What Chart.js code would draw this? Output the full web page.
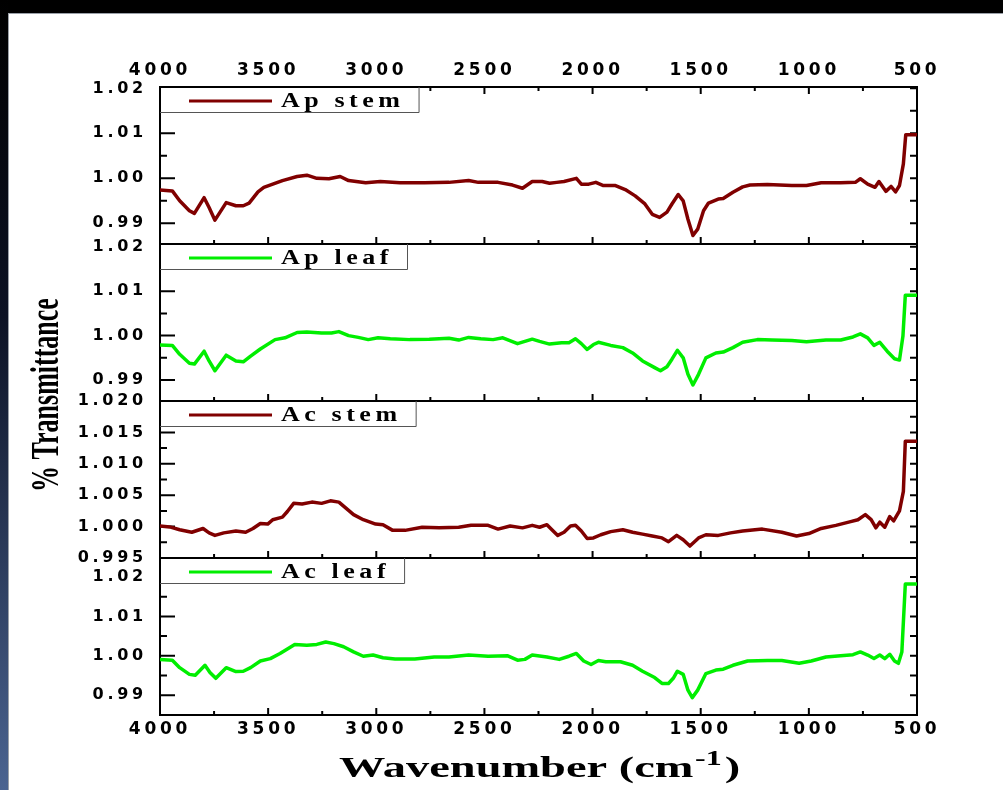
<!DOCTYPE html>
<html>
<head>
<meta charset="utf-8">
<title>FTIR spectra</title>
<script src="https://cdn.jsdelivr.net/npm/chart.js@4.4.1/dist/chart.umd.min.js"></script>
<style>
  html, body { margin: 0; padding: 0; background: #000; }
  #page { position: relative; width: 1003px; height: 790px; overflow: hidden; background: #000; }
  #strip { position: absolute; left: 0; top: 0; width: 8px; height: 790px; background: linear-gradient(to bottom, #000 0%, #0c1224 40%, #4b6491 100%); }
  #sheet { position: absolute; left: 8px; top: 13px; right: 0; bottom: 0; background: #fff; border-top: 1px solid #9aa0a8; border-left: 1px solid #9aa0a8; }
  #myChart { position: absolute; left: 0; top: 0; }
</style>
</head>
<body>
<div id="page">
  <div id="strip"></div>
  <div id="sheet"></div>
  <canvas id="myChart" width="1003" height="790"></canvas>
</div>
<script>
// wavenumber (cm-1) and transmittance
const apStemWn = [4000, 3943, 3909, 3864, 3841, 3796, 3773, 3746, 3694, 3649, 3615, 3588, 3547, 3520, 3434, 3366, 3321, 3275, 3219, 3167, 3128, 3049, 2981, 2890, 2777, 2664, 2573, 2528, 2437, 2370, 2324, 2279, 2233, 2199, 2166, 2132, 2075, 2052, 2018, 1985, 1950, 1894, 1849, 1803, 1758, 1724, 1690, 1656, 1633, 1604, 1581, 1559, 1536, 1514, 1487, 1464, 1419, 1396, 1351, 1306, 1272, 1192, 1079, 1011, 943, 853, 785, 762, 728, 694, 676, 644, 620, 599, 581, 563, 552, 500];
const apStemT = [0.9974, 0.9972, 0.995, 0.9928, 0.9922, 0.9957, 0.9935, 0.9907, 0.9946, 0.9939, 0.9939, 0.9945, 0.997, 0.998, 0.9995, 1.0004, 1.0007, 1.0, 0.9999, 1.0004, 0.9995, 0.999, 0.9993, 0.999, 0.999, 0.9991, 0.9995, 0.9991, 0.9991, 0.9985, 0.9978, 0.9993, 0.9993, 0.9989, 0.9991, 0.9993, 1.0, 0.9987, 0.9987, 0.9991, 0.9984, 0.9984, 0.9975, 0.9961, 0.9943, 0.992, 0.9913, 0.9925, 0.9943, 0.9964, 0.995, 0.9909, 0.9873, 0.9887, 0.9928, 0.9945, 0.9954, 0.9955, 0.9969, 0.9981, 0.9985, 0.9986, 0.9984, 0.9984, 0.999, 0.999, 0.9991, 0.9999, 0.9987, 0.998, 0.9993, 0.9971, 0.9982, 0.997, 0.9984, 1.0032, 1.0097, 1.0097];

const apLeafWn = [4000, 3943, 3909, 3864, 3841, 3796, 3773, 3746, 3694, 3649, 3615, 3581, 3536, 3468, 3422, 3366, 3321, 3253, 3207, 3173, 3128, 3083, 3037, 2992, 2935, 2845, 2755, 2664, 2619, 2573, 2517, 2460, 2415, 2347, 2279, 2245, 2199, 2143, 2109, 2079, 2052, 2025, 1996, 1973, 1916, 1860, 1815, 1769, 1713, 1686, 1656, 1633, 1608, 1581, 1559, 1536, 1510, 1476, 1430, 1396, 1351, 1306, 1238, 1170, 1079, 1011, 921, 853, 796, 762, 728, 699, 672, 638, 604, 581, 565, 554, 500];
const apLeafT = [0.9979, 0.9978, 0.9958, 0.9938, 0.9936, 0.9965, 0.9943, 0.9921, 0.9956, 0.9943, 0.9941, 0.9954, 0.997, 0.9991, 0.9995, 1.0007, 1.0008, 1.0006, 1.0006, 1.0009, 1.0, 0.9996, 0.9991, 0.9995, 0.9993, 0.9991, 0.9992, 0.9994, 0.999, 0.9996, 0.9993, 0.9991, 0.9995, 0.9982, 0.9992, 0.9987, 0.9981, 0.9984, 0.9984, 0.9993, 0.9982, 0.9969, 0.998, 0.9985, 0.9978, 0.9973, 0.9961, 0.9943, 0.9928, 0.9921, 0.993, 0.9947, 0.9967, 0.995, 0.9913, 0.9889, 0.9913, 0.995, 0.9961, 0.9963, 0.9973, 0.9985, 0.9991, 0.999, 0.9989, 0.9986, 0.999, 0.999, 0.9997, 1.0004, 0.9995, 0.9978, 0.9985, 0.9965, 0.9948, 0.9945, 0.9999, 1.0091, 1.0091];

const acStemWn = [4000, 3955, 3909, 3853, 3801, 3773, 3746, 3705, 3649, 3604, 3570, 3536, 3502, 3479, 3434, 3411, 3382, 3343, 3298, 3253, 3212, 3173, 3139, 3105, 3060, 3003, 2969, 2924, 2867, 2788, 2709, 2619, 2562, 2483, 2437, 2381, 2324, 2279, 2245, 2211, 2188, 2161, 2132, 2102, 2079, 2052, 2025, 1996, 1962, 1916, 1860, 1815, 1769, 1724, 1679, 1649, 1611, 1581, 1550, 1510, 1476, 1419, 1362, 1306, 1215, 1125, 1057, 1000, 943, 875, 807, 773, 739, 712, 690, 672, 649, 626, 608, 581, 563, 554, 500];
const acStemT = [1.0001, 0.99995, 0.9995, 0.9991, 0.9997, 0.999, 0.9986, 0.999, 0.9993, 0.9991, 0.9997, 1.0005, 1.0004, 1.0011, 1.0015, 1.0024, 1.0037, 1.0036, 1.0039, 1.0037, 1.0041, 1.0039, 1.0029, 1.0019, 1.0011, 1.0004, 1.0003, 0.9994, 0.9994, 0.9999, 0.9998, 0.9999, 1.0002, 1.0002, 0.9996, 1.0001, 0.9998, 1.0002, 0.9999, 1.0003, 0.9995, 0.9986, 0.9991, 1.0001, 1.0002, 0.9993, 0.9981, 0.9982, 0.9987, 0.9992, 0.9995, 0.9991, 0.9988, 0.9985, 0.9982, 0.9976, 0.9986, 0.9979, 0.9969, 0.9982, 0.9987, 0.9986, 0.999, 0.9993, 0.9996, 0.9991, 0.9985, 0.9989, 0.9997, 1.0002, 1.0008, 1.0011, 1.0019, 1.0011, 0.9998, 1.0007, 0.9999, 1.0016, 1.0009, 1.0025, 1.0056, 1.0136, 1.0136];

const acLeafWn = [4000, 3943, 3909, 3864, 3837, 3792, 3769, 3742, 3694, 3649, 3615, 3581, 3536, 3490, 3445, 3377, 3321, 3275, 3234, 3196, 3151, 3105, 3060, 3015, 2969, 2913, 2822, 2732, 2664, 2573, 2483, 2392, 2347, 2313, 2279, 2211, 2154, 2109, 2075, 2041, 2007, 1973, 1939, 1871, 1815, 1769, 1713, 1679, 1649, 1627, 1608, 1581, 1559, 1539, 1514, 1476, 1430, 1396, 1351, 1283, 1192, 1125, 1045, 989, 921, 853, 796, 762, 728, 699, 672, 649, 626, 604, 586, 570, 554, 500];
const acLeafT = [0.9991, 0.9989, 0.997, 0.9953, 0.9951, 0.9976, 0.9958, 0.9943, 0.997, 0.996, 0.9961, 0.997, 0.9987, 0.9993, 1.0006, 1.0029, 1.0027, 1.0029, 1.0035, 1.0031, 1.0023, 1.001, 0.9999, 1.0002, 0.9995, 0.9992, 0.9992, 0.9997, 0.9997, 1.0002, 0.9999, 1.0, 0.9989, 0.9991, 1.0002, 0.9997, 0.9991, 0.9999, 1.0006, 0.9987, 0.9978, 0.9988, 0.9985, 0.9985, 0.9976, 0.9961, 0.9945, 0.993, 0.993, 0.9943, 0.9961, 0.9953, 0.9913, 0.9894, 0.9913, 0.9955, 0.9964, 0.9966, 0.9976, 0.9987, 0.9988, 0.9988, 0.9981, 0.9987, 0.9997, 1.0, 1.0003, 1.001, 1.0002, 0.9993, 1.0002, 0.9993, 1.0004, 0.9987, 0.9981, 1.001, 1.0182, 1.0182];

const seriesLabels = ["Ap stem", "Ap leaf", "Ac stem", "Ac leaf"];
const xTickLabels = ["4000", "3500", "3000", "2500", "2000", "1500", "1000", "500"];

const stemColor = "#800000";
const leafColor = "#00ee00";

// one panel per sample, top to bottom
const panels = [
  { id: "yApStem", wn: apStemWn, t: apStemT, color: stemColor, min: 0.9854, max: 1.0203, minor: 0.005, major: 0.01, digits: 2 },
  { id: "yApLeaf", wn: apLeafWn, t: apLeafT, color: leafColor, min: 0.9853, max: 1.0206, minor: 0.005, major: 0.01, digits: 2 },
  { id: "yAcStem", wn: acStemWn, t: acStemT, color: stemColor, min: 0.995, max: 1.02, minor: 0.0025, major: 0.005, digits: 3 },
  { id: "yAcLeaf", wn: acLeafWn, t: acLeafT, color: leafColor, min: 0.985, max: 1.0248, minor: 0.005, major: 0.01, digits: 2 },
];

const isStep = (v, step) => Math.abs(v / step - Math.round(v / step)) < 1e-6;

const tickFont = (size) => ({ family: "DejaVu Sans", size: size, weight: "bold" });

const makeY = (p) => ({
  type: "linear",
  position: "left",
  stack: "spectra",
  stackWeight: 1,
  min: p.min,
  max: p.max,
  grid: { display: false, drawTicks: false },
  border: { display: false },
  ticks: {
    stepSize: p.minor,
    includeBounds: false,
    autoSkip: false,
    padding: 13,
    color: "#000",
    font: tickFont(16),
    callback: (v) => (isStep(v, p.major) ? v.toFixed(p.digits) : ""),
  },
  afterFit: (scale) => {
    scale.width = 160;
  },
});

const makeX = (pos) => ({
  type: "linear",
  position: pos,
  min: 500,
  max: 4000,
  reverse: true,
  grid: { display: false, drawTicks: false },
  border: { display: false },
  ticks: {
    stepSize: 250,
    includeBounds: false,
    autoSkip: false,
    maxRotation: 0,
    padding: pos === "top" ? 6 : 4,
    color: "#000",
    font: tickFont(17),
    callback: (v) => (xTickLabels.includes(String(v)) ? String(v) : ""),
  },
  afterFit: (scale) => {
    scale.height = pos === "top" ? 87 : 75;
  },
});

const scales = { x: makeX("bottom"), x2: makeX("top") };
// stacked axes are laid out from the last one down, so add the bottom panel first
[...panels].reverse().forEach((p) => {
  scales[p.id] = makeY(p);
});

const panelPlugin = {
  id: "panels",
  beforeDraw(chart) {
    chart.ctx.letterSpacing = "3.75px";
  },
  beforeDatasetsDraw(chart) {
    const { ctx, chartArea } = chart;
    const xs = chart.scales.x;
    ctx.save();
    ctx.strokeStyle = "#000";
    ctx.lineWidth = 2;
    panels.forEach((p, i) => {
      const ys = chart.scales[p.id];
      ctx.beginPath();
      ys.ticks.forEach((t) => {
        if (!isStep(t.value, p.minor)) return;
        const y = ys.getPixelForValue(t.value);
        const len = isStep(t.value, p.major) ? 15 : 7;
        ctx.moveTo(chartArea.left, y);
        ctx.lineTo(chartArea.left + len, y);
        ctx.moveTo(chartArea.right, y);
        ctx.lineTo(chartArea.right - 7, y);
      });
      xs.ticks.forEach((t) => {
        const x = xs.getPixelForValue(t.value);
        const len = t.value % 500 === 0 ? 7 : 4;
        ctx.moveTo(x, ys.bottom);
        ctx.lineTo(x, ys.bottom - len);
        if (i === 0) {
          ctx.moveTo(x, ys.top);
          ctx.lineTo(x, ys.top + len);
        }
      });
      ctx.stroke();
      ctx.strokeRect(chartArea.left, ys.top, chartArea.right - chartArea.left, ys.bottom - ys.top);
    });
    ctx.restore();
  },
  afterDatasetsDraw(chart) {
    const { ctx, chartArea } = chart;
    const left = chartArea.left;
    ctx.save();
    ctx.font = 'bold 20px "Liberation Serif"';
    ctx.letterSpacing = "3.5px";
    chart.data.datasets.forEach((ds, i) => {
      const top = chart.scales[panels[i].id].top;
      const right = left + 121 + ctx.measureText(ds.label).width * 1.3 + 14;
      ctx.fillStyle = "#fff";
      ctx.fillRect(left + 1, top + 1, right - left - 1, 24);
      ctx.strokeStyle = "#555";
      ctx.lineWidth = 1;
      ctx.beginPath();
      ctx.moveTo(left, top + 25.5);
      ctx.lineTo(right + 0.5, top + 25.5);
      ctx.lineTo(right + 0.5, top);
      ctx.stroke();
      ctx.strokeStyle = ds.borderColor;
      ctx.lineWidth = 3;
      ctx.beginPath();
      ctx.moveTo(left + 29, top + 14);
      ctx.lineTo(left + 112, top + 14);
      ctx.stroke();
      ctx.save();
      ctx.translate(left + 121, top + 20);
      ctx.scale(1.3, 1);
      ctx.fillStyle = "#000";
      ctx.fillText(ds.label, 0, 0);
      ctx.restore();
    });
    ctx.restore();
  },
  afterDraw(chart) {
    const { ctx, chartArea } = chart;
    const midY = (chartArea.top + chartArea.bottom) / 2;
    ctx.save();
    ctx.letterSpacing = "0px";
    ctx.fillStyle = "#000";
    ctx.textBaseline = "alphabetic";

    // y title, rotated and widened like the source figure
    ctx.save();
    ctx.translate(58, midY - 6);
    ctx.rotate(-Math.PI / 2);
    ctx.scale(1, 1.5);
    ctx.textAlign = "center";
    ctx.font = 'bold 26px "Liberation Serif"';
    ctx.fillText("% Transmittance", 0, 0);
    ctx.restore();

    // x title with superscript
    ctx.save();
    ctx.translate(339, 777);
    ctx.scale(1.6, 1);
    ctx.textAlign = "left";
    ctx.font = 'bold 29px "Liberation Serif"';
    const main = "Wavenumber (cm";
    const w1 = ctx.measureText(main).width;
    ctx.fillText(main, 0, 0);
    ctx.font = 'bold 20px "Liberation Serif"';
    const w2 = ctx.measureText("-1").width;
    ctx.fillText("-1", w1 + 1, -12);
    ctx.font = 'bold 29px "Liberation Serif"';
    ctx.fillText(")", w1 + w2 + 3, 0);
    ctx.restore();

    ctx.restore();
    ctx.letterSpacing = "0px";
  },
};

const ctx = document.getElementById("myChart").getContext("2d");
const myChart = new Chart(ctx, {
  type: "line",
  data: {
    datasets: panels.map((p, i) => ({
      label: seriesLabels[i],
      data: p.wn.map((w, k) => ({ x: w, y: p.t[k] })),
      xAxisID: "x",
      yAxisID: p.id,
      borderColor: p.color,
      borderWidth: 3.5,
      borderJoinStyle: "round",
      borderCapStyle: "round",
      pointRadius: 0,
      tension: 0,
      fill: false,
    })),
  },
  options: {
    responsive: false,
    animation: false,
    layout: { padding: { left: 0, right: 86, top: 0, bottom: 0 } },
    scales: scales,
    plugins: {
      legend: { display: false },
      tooltip: { enabled: false },
    },
  },
  plugins: [panelPlugin],
});
</script>
</body>
</html>
